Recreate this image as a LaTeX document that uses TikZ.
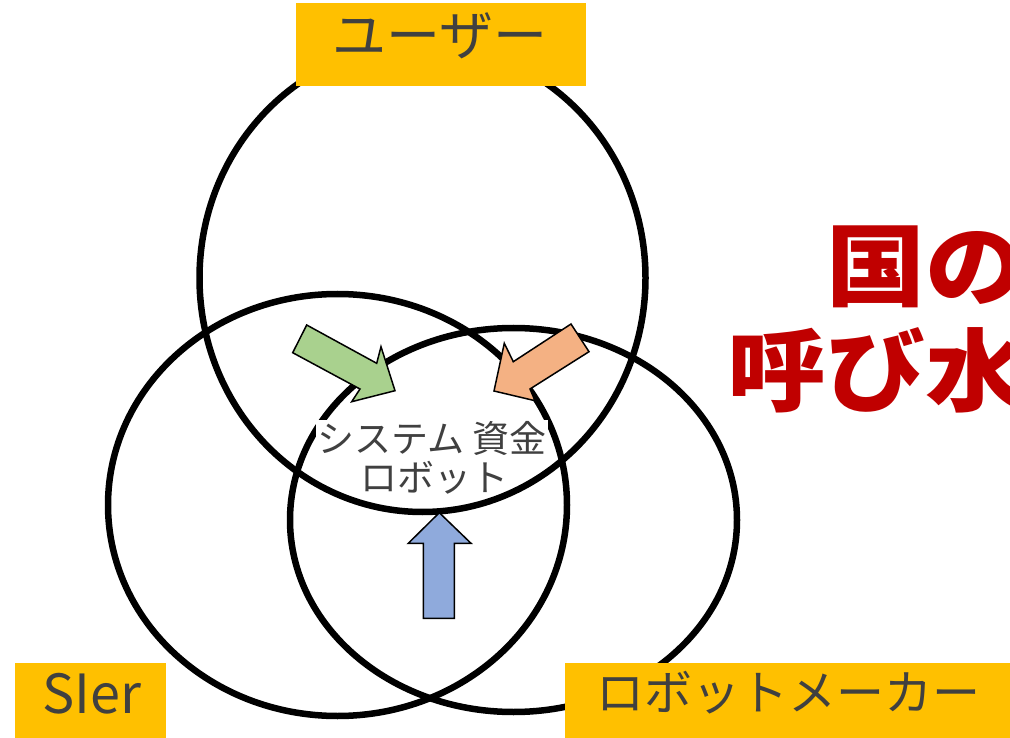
\documentclass[tikz,border=0pt]{standalone}
\usepackage{fontspec}
\newfontfamily\jp{Noto Sans CJK JP}
\definecolor{lblfill}{HTML}{FFC000}
\definecolor{txtgray}{HTML}{404040}
\definecolor{kuni}{HTML}{C00000}
\definecolor{grn}{HTML}{A9D18E}
\definecolor{org}{HTML}{F4B183}
\definecolor{blu}{HTML}{8FAADC}
\begin{document}
\begin{tikzpicture}[x=1pt,y=-1pt,
  ring/.style={line width=6.5pt, draw=black},
  blockarrow/.style={draw=black, line width=1.5pt, line join=miter},
  labelbox/.style={fill=lblfill, draw=none, inner sep=0pt},
  lbltext/.style={text=txtgray, inner sep=0pt, anchor=base},
  redtext/.style={text=kuni, inner sep=0pt, anchor=base west, font=\jp\bfseries\fontsize{90}{90}\selectfont}]
\useasboundingbox (0,0) rectangle (1010,738);
% circles
\draw[ring] (422.5,278) ellipse [x radius=223pt, y radius=234pt];
\draw[ring] (337.5,505) ellipse [x radius=229.5pt, y radius=211pt];
\draw[ring] (513.5,520) ellipse [x radius=223.5pt, y radius=192pt];
% label boxes
\node[labelbox, minimum width=290pt, minimum height=83pt] (userbox) at (441,44.5) {};
\node[labelbox, minimum width=151pt, minimum height=76pt] (sierbox) at (90.5,701) {};
\node[labelbox, minimum width=446pt, minimum height=76pt] (makerbox) at (788,701) {};
\node[lbltext, font=\jp\fontsize{54}{54}\selectfont] (usertxt) at (440,56) {ユーザー};
\node[lbltext, font=\jp\fontsize{54}{54}\selectfont] (siertxt) at (92,713) {SIer};
\node[lbltext, font=\jp\fontsize{48}{48}\selectfont] (makertxt) at (788,710) {ロボットメーカー};
% red text
\node[redtext] (kuni1) at (826,299) {\scalebox{1.1}[1]{国の}};
\node[redtext] (kuni2) at (727,404) {\scalebox{1.1}[1]{呼び水}};
% arrows
\draw[blockarrow, fill=grn] (306.7,325) -- (376.7,363.3) -- (381,346.7) -- (395,390.7)
  -- (351.7,401.7) -- (360,389) -- (292.7,352.7) -- cycle;
\draw[blockarrow, fill=org] (571,324) -- (589,351.7) -- (530,389) -- (535,400.7)
  -- (494,391) -- (504.3,343.3) -- (513.3,361.7) -- cycle;
\draw[blockarrow, fill=blu] (439.3,512.7) -- (471,543.3) -- (454.3,543.3) -- (454.3,618.3)
  -- (423.3,618.3) -- (423.3,543.3) -- (408.3,543.3) -- cycle;
% centre text
\node[lbltext, font=\jp\fontsize{37}{37}\selectfont, fill=white, inner sep=1pt] (mid1) at (432,452) {システム 資金};
\node[lbltext, font=\jp\fontsize{37}{37}\selectfont] (mid2) at (434,491) {ロボット};
\end{tikzpicture}
\end{document}
